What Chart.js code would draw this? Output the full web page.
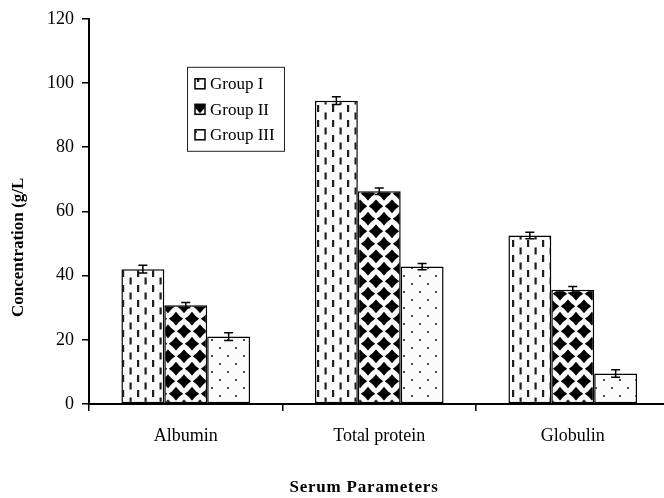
<!DOCTYPE html>
<html>
<head>
<meta charset="utf-8">
<script src="https://cdn.jsdelivr.net/npm/chart.js@4/dist/chart.umd.min.js"></script>
<style>
  html, body { margin: 0; padding: 0; background: #fff; overflow: hidden; }
  #wrap { width: 664px; height: 498px; overflow: hidden; }
  canvas { display: block; }
</style>
</head>
<body>
<div id="wrap"><canvas id="c" width="672" height="498"></canvas></div>
<script>
// Serum parameters (g/L) per group, with standard errors
const categories = ['Albumin', 'Total protein', 'Globulin'];
const groupLabels = ['Group I', 'Group II', 'Group III'];
const groupI = [42.0, 94.5, 52.5];
const groupII = [30.8, 66.3, 35.6];
const groupIII = [21.0, 42.8, 9.5];
const errI = [1.2, 1.2, 1.0];
const errII = [0.8, 1.0, 1.0];
const errIII = [1.2, 1.0, 1.2];
const yMin = 0, yMax = 120, yStep = 20;

const FONT = "'Liberation Serif', 'Times New Roman', serif";

function makeTile(w, h, draw) {
  const t = document.createElement('canvas');
  t.width = w; t.height = h;
  const g = t.getContext('2d');
  g.fillStyle = '#fbfbfb';
  g.fillRect(0, 0, w, h);
  draw(g);
  return document.getElementById('c').getContext('2d').createPattern(t, 'repeat');
}

// vertical dashes, staggered
const dashPattern = makeTile(15, 15, g => {
  g.fillStyle = '#1e1e1e';
  g.fillRect(2, 0, 2.2, 7);
  g.fillRect(9.5, 7.5, 2.2, 7);
});

// diamond checker
const diamondPattern = makeTile(16, 25, g => {
  g.fillStyle = '#000';
  const d = (cx, cy, a, b) => {
    g.beginPath();
    g.moveTo(cx - a, cy);
    g.quadraticCurveTo(cx - a * 0.4, cy - b * 0.4, cx, cy - b);
    g.quadraticCurveTo(cx + a * 0.4, cy - b * 0.4, cx + a, cy);
    g.quadraticCurveTo(cx + a * 0.4, cy + b * 0.4, cx, cy + b);
    g.quadraticCurveTo(cx - a * 0.4, cy + b * 0.4, cx - a, cy);
    g.closePath(); g.fill();
  };
  const A = 7.2, B = 7;
  [[8, 6.25], [0, 18.75], [16, 18.75], [8, 31.25], [0, -6.25], [16, -6.25]]
    .forEach(p => d(p[0], p[1], A, B));
});

// sparse dots
const dotPattern = makeTile(16, 16, g => {
  g.fillStyle = '#4a4a4a';
  g.fillRect(3, 3, 2, 2);
  g.fillRect(11, 11, 2, 2);
});

const errors = [errI, errII, errIII];

const errorBars = {
  id: 'errorBars',
  afterDatasetsDraw(chart) {
    const ctx = chart.ctx;
    const y = chart.scales.y;
    ctx.save();
    ctx.strokeStyle = '#000';
    ctx.lineWidth = 1.5;
    chart.data.datasets.forEach((ds, i) => {
      const meta = chart.getDatasetMeta(i);
      meta.data.forEach((bar, j) => {
        const v = ds.data[j], e = errors[i][j];
        const yt = y.getPixelForValue(v + e), yb = y.getPixelForValue(v - e);
        const x = bar.x;
        ctx.beginPath();
        ctx.moveTo(x, yt); ctx.lineTo(x, yb);
        ctx.moveTo(x - 4.5, yt); ctx.lineTo(x + 4.5, yt);
        ctx.moveTo(x - 4.5, yb); ctx.lineTo(x + 4.5, yb);
        ctx.stroke();
      });
    });
    ctx.restore();
  }
};

const boxLegend = {
  id: 'boxLegend',
  afterDraw(chart) {
    const ctx = chart.ctx;
    const a = chart.chartArea;
    const bx = a.left + 98, by = a.top + 48, bw = 97, bh = 84;
    ctx.save();
    ctx.fillStyle = '#fff';
    ctx.fillRect(bx, by, bw, bh);
    ctx.strokeStyle = '#222';
    ctx.lineWidth = 1;
    ctx.strokeRect(bx + 0.5, by + 0.5, bw, bh);
    ctx.font = '17px ' + FONT;
    ctx.textBaseline = 'middle';
    chart.data.datasets.forEach((ds, i) => {
      const cy = by + 17 + i * 25.5;
      ctx.fillStyle = ds.backgroundColor;
      ctx.fillRect(bx + 8, cy - 5, 10, 10);
      ctx.strokeStyle = '#000';
      ctx.lineWidth = 1.5;
      ctx.strokeRect(bx + 8, cy - 5, 10, 10);
      ctx.fillStyle = '#000';
      ctx.fillText(ds.label, bx + 23, cy + 1);
    });
    ctx.restore();
  }
};

const axisTitles = {
  id: 'axisTitles',
  afterDraw(chart) {
    const ctx = chart.ctx;
    const a = chart.chartArea;
    ctx.save();
    ctx.fillStyle = '#000';
    ctx.font = 'bold 17px ' + FONT;
    ctx.textAlign = 'center';
    ctx.textBaseline = 'middle';
    ctx.letterSpacing = '0.8px';
    ctx.fillText('Serum Parameters', a.left + 275, a.bottom + 84);
    ctx.letterSpacing = '0px';
    ctx.translate(19, (a.top + a.bottom) / 2 + 36);
    ctx.rotate(-Math.PI / 2);
    ctx.fillText('Concentration (g/L', 0, 0);
    ctx.restore();
  }
};

const series = [groupI, groupII, groupIII];
const fills = [dashPattern, diamondPattern, dotPattern];

new Chart(document.getElementById('c'), {
  type: 'bar',
  data: {
    labels: categories,
    datasets: series.map((d, i) => ({
      label: groupLabels[i],
      data: d,
      backgroundColor: fills[i],
      borderColor: '#000',
      borderWidth: 1.5,
      borderSkipped: false,
      categoryPercentage: 0.665,
      barPercentage: 1.0
    }))
  },
  options: {
    responsive: false,
    animation: false,
    devicePixelRatio: 1,
    layout: { padding: { left: 0, top: 13.5, right: 2.5, bottom: 0 } },
    plugins: { legend: { display: false }, tooltip: { enabled: false } },
    scales: {
      x: {
        offset: true,
        grid: { display: true, drawOnChartArea: false, offset: true, tickLength: 7, color: '#000', lineWidth: 1.5 },
        border: { color: '#000', width: 2 },
        ticks: { color: '#000', font: { family: FONT, size: 18 }, padding: 14 },
        afterFit(s) { s.height = 94; }
      },
      y: {
        min: yMin, max: yMax,
        grid: { drawOnChartArea: false, tickLength: 7, color: '#000', lineWidth: 1.5 },
        border: { color: '#000', width: 2 },
        ticks: { stepSize: yStep, color: '#000', font: { family: FONT, size: 18 }, padding: 8 },
        afterFit(s) { s.width = 89; }
      }
    }
  },
  plugins: [errorBars, boxLegend, axisTitles]
});
</script>
</body>
</html>
